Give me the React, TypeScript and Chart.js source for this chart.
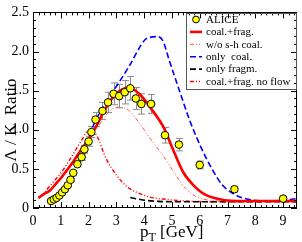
import React, { useEffect, useRef } from 'react';
import { Chart, registerables } from 'chart.js';
Chart.register(...registerables);

const FONT = "'Liberation Serif', 'Times New Roman', serif";

// ALICE data
const aliceX = [0.65, 0.75, 0.85, 0.95, 1.05, 1.15, 1.25, 1.35, 1.45, 1.6, 1.75, 1.85, 2.0, 2.1, 2.25, 2.5, 2.7, 2.9, 3.1, 3.3, 3.5, 3.7, 3.9, 4.25, 4.75, 5.25, 6.0, 7.25, 9.0];
const aliceY = [0.09, 0.11, 0.13, 0.16, 0.2, 0.24, 0.29, 0.36, 0.45, 0.56, 0.65, 0.75, 0.85, 0.97, 1.13, 1.24, 1.35, 1.46, 1.43, 1.48, 1.53, 1.4, 1.33, 1.33, 0.93, 0.81, 0.55, 0.24, 0.12];
const aliceErr = [0.01, 0.01, 0.01, 0.01, 0.01, 0.01, 0.015, 0.02, 0.02, 0.03, 0.04, 0.05, 0.06, 0.07, 0.09, 0.11, 0.13, 0.14, 0.15, 0.15, 0.15, 0.14, 0.13, 0.12, 0.1, 0.08, 0.05, 0.035, 0.03];

// coal.+frag.
const cfX = [0.2, 0.4, 0.6, 0.8, 1.0, 1.3, 1.5, 1.8, 2.0, 2.3, 2.5, 2.8, 3.1, 3.45, 3.85, 4.25, 4.7, 5.0, 5.4, 5.75, 6.2, 6.9, 7.5, 8.5, 9.5];
const cfY = [0.13, 0.18, 0.22, 0.3, 0.38, 0.52, 0.62, 0.78, 0.88, 1.06, 1.2, 1.38, 1.49, 1.54, 1.45, 1.27, 1.03, 0.78, 0.46, 0.3, 0.17, 0.1, 0.09, 0.09, 0.09];

// w/o s-h coal.
const woX = [0.2, 0.4, 0.6, 0.8, 1.0, 1.3, 1.5, 1.8, 2.0, 2.3, 2.5, 2.73, 3.08, 3.44, 3.8, 4.15, 4.45, 4.78, 5.14, 5.49, 5.85, 6.32, 7.0, 8.0, 9.5];
const woY = [0.13, 0.18, 0.22, 0.3, 0.38, 0.52, 0.62, 0.78, 0.88, 1.02, 1.12, 1.23, 1.29, 1.25, 1.1, 0.92, 0.78, 0.62, 0.42, 0.25, 0.15, 0.1, 0.09, 0.09, 0.09];

// only coal.
const ocX = [0.2, 0.4, 0.6, 0.8, 1.0, 1.3, 1.5, 1.8, 2.0, 2.25, 2.6, 2.85, 3.44, 4.03, 4.2, 4.45, 4.67, 4.9, 5.25, 5.66, 6.08, 6.44, 6.8, 7.27, 7.75, 8.34, 9.0, 9.5];
const ocY = [0.13, 0.18, 0.22, 0.3, 0.38, 0.52, 0.62, 0.79, 0.9, 1.12, 1.33, 1.47, 1.8, 2.15, 2.18, 2.19, 2.14, 1.89, 1.52, 1.1, 0.75, 0.5, 0.3, 0.17, 0.11, 0.09, 0.1, 0.12];

// only fragm.
const ofX = [3.5, 4.0, 4.5, 5.0, 6.0, 7.0, 8.0, 9.5];
const ofY = [0.135, 0.1, 0.085, 0.08, 0.08, 0.08, 0.08, 0.08];

// coal.+frag. no flow
const nfX = [0.2, 0.37, 0.6, 0.8, 1.07, 1.43, 1.79, 1.95, 2.1, 2.3, 2.62, 2.98, 3.39, 3.8, 4.2, 4.8, 5.5, 6.5, 8.0, 9.5];
const nfY = [0.13, 0.18, 0.28, 0.36, 0.48, 0.68, 0.89, 0.98, 0.99, 0.92, 0.64, 0.43, 0.27, 0.19, 0.14, 0.11, 0.09, 0.08, 0.08, 0.08];

const legendLabels = ['ALICE', 'coal.+frag.', 'w/o s-h coal.', 'only  coal.', 'only fragm.', 'coal.+frag. no flow'];

const pts = (xs: number[], ys: number[]) => xs.map((x, i) => ({ x, y: ys[i] }));

const STYLES = [
  null,
  { color: '#ff0000', width: 2.6, dash: [] as number[] },
  { color: '#ff5050', width: 1, dash: [4, 2, 1, 2, 1, 2] },
  { color: '#0000ff', width: 1.6, dash: [6, 3] },
  { color: '#000000', width: 1.6, dash: [6, 3] },
  { color: '#ff0000', width: 1.4, dash: [4, 2, 1, 2, 1, 2] },
];

export default function App() {
  const ref = useRef<HTMLCanvasElement>(null);
  useEffect(() => {
    document.body.style.margin = '0';
    const canvas = ref.current!;

    const errPlugin = {
      id: 'errbars',
      beforeDatasetsDraw(chart: any) {
        const { ctx, scales } = chart;
        const x = scales.x, y = scales.y;
        ctx.save();
        ctx.strokeStyle = '#8c8c8c';
        ctx.lineWidth = 1;
        aliceX.forEach((xv, i) => {
          const e = aliceErr[i];
          const px = Math.round(x.getPixelForValue(xv)) + 0.5;
          const y1 = y.getPixelForValue(aliceY[i] + e);
          const y2 = y.getPixelForValue(aliceY[i] - e);
          ctx.beginPath();
          ctx.moveTo(px, y1); ctx.lineTo(px, y2);
          ctx.moveTo(px - 3.5, y1); ctx.lineTo(px + 3.5, y1);
          ctx.moveTo(px - 3.5, y2); ctx.lineTo(px + 3.5, y2);
          ctx.stroke();
        });
        ctx.restore();
      },
    };

    const decoPlugin = {
      id: 'deco',
      afterDraw(chart: any) {
        const { ctx, chartArea: a, scales } = chart;
        const x = scales.x, y = scales.y;
        ctx.save();
        ctx.strokeStyle = '#000';
        ctx.lineWidth = 1;
        // frame
        ctx.strokeRect(Math.round(a.left) + 0.5, Math.round(a.top) + 0.5, Math.round(a.right - a.left) - 1, Math.round(a.bottom - a.top) - 1);
        // x ticks
        ctx.beginPath();
        for (let k = 0; k <= 47; k++) {
          const v = k * 0.2;
          if (v > 9.5) break;
          const px = Math.round(x.getPixelForValue(v)) + 0.5;
          const len = k % 5 === 0 ? 6 : 3;
          ctx.moveTo(px, a.bottom); ctx.lineTo(px, a.bottom - len);
          ctx.moveTo(px, a.top); ctx.lineTo(px, a.top + len);
        }
        for (let k = 0; k <= 25; k++) {
          const v = k * 0.1;
          const py = Math.round(y.getPixelForValue(v)) + 0.5;
          const len = k % 5 === 0 ? 6 : 3;
          ctx.moveTo(a.left, py); ctx.lineTo(a.left + len, py);
          ctx.moveTo(a.right, py); ctx.lineTo(a.right - len, py);
        }
        ctx.stroke();

        // axis titles
        ctx.fillStyle = '#000';
        ctx.textBaseline = 'alphabetic';
        ctx.font = `17px ${FONT}`;
        let tx = 140;
        const ty = 237;
        ctx.textAlign = 'left';
        ctx.fillText('p', tx, ty);
        tx += ctx.measureText('p').width;
        ctx.font = `12px ${FONT}`;
        ctx.fillText('T', tx, ty + 4);
        tx += ctx.measureText('T').width;
        ctx.font = `17px ${FONT}`;
        ctx.fillText(' [GeV]', tx, ty);

        ctx.save();
        ctx.translate(16, 120);
        ctx.rotate(-Math.PI / 2);
        ctx.textAlign = 'center';
        ctx.fillText('\u039b / K  Ratio', 0, 0);
        ctx.restore();

        // legend
        const lx = 186.5, ly = 13.5, lw = 110, lh = 76;
        ctx.strokeStyle = '#555';
        ctx.lineWidth = 1;
        ctx.strokeRect(lx, ly, lw, lh);
        ctx.font = `11px ${FONT}`;
        ctx.textBaseline = 'middle';
        ctx.textAlign = 'left';
        legendLabels.forEach((lab, i) => {
          const cy = 19.5 + i * 12.4;
          if (i === 0) {
            ctx.beginPath();
            ctx.arc(196, cy, 3.4, 0, Math.PI * 2);
            ctx.fillStyle = '#ffff00';
            ctx.fill();
            ctx.strokeStyle = '#000';
            ctx.stroke();
          } else {
            const s = STYLES[i]!;
            ctx.save();
            ctx.strokeStyle = s.color;
            ctx.lineWidth = s.width;
            ctx.setLineDash(s.dash);
            ctx.beginPath();
            ctx.moveTo(190, cy); ctx.lineTo(202, cy);
            ctx.stroke();
            ctx.restore();
          }
          ctx.fillStyle = '#000';
          ctx.fillText(lab, 206, cy + 0.5);
        });
        ctx.restore();
      },
    };

    const lineDs = (label: string, xs: number[], ys: number[], i: number) => {
      const s = STYLES[i]!;
      return {
        label,
        data: pts(xs, ys),
        showLine: true,
        borderColor: s.color,
        borderWidth: s.width,
        borderDash: s.dash,
        pointRadius: 0,
        fill: false,
        cubicInterpolationMode: 'monotone' as const,
        order: i,
      };
    };

    const chart = new Chart(canvas, {
      type: 'scatter',
      data: {
        datasets: [
          {
            label: 'ALICE',
            data: pts(aliceX, aliceY),
            pointRadius: 3.8,
            pointBackgroundColor: '#ffff00',
            pointBorderColor: '#000',
            pointBorderWidth: 1,
            showLine: false,
            order: 0,
          } as any,
          lineDs('coal.+frag.', cfX, cfY, 1),
          lineDs('w/o s-h coal.', woX, woY, 2),
          lineDs('only  coal.', ocX, ocY, 3),
          lineDs('only fragm.', ofX, ofY, 4),
          lineDs('coal.+frag. no flow', nfX, nfY, 5),
        ],
      },
      options: {
        animation: false,
        responsive: false,
        devicePixelRatio: 1,
        layout: { padding: { top: 8, right: 3, left: 0, bottom: 0 } },
        plugins: { legend: { display: false }, tooltip: { enabled: false } },
        scales: {
          x: {
            type: 'linear',
            min: 0,
            max: 9.5,
            grid: { display: false, drawTicks: false },
            border: { display: false },
            ticks: { stepSize: 1, includeBounds: false, padding: 5, color: '#000', font: { family: FONT, size: 14 }, maxRotation: 0 },
            afterFit: (s: any) => { s.height = 34; },
          },
          y: {
            type: 'linear',
            min: 0,
            max: 2.5,
            grid: { display: false, drawTicks: false },
            border: { display: false },
            ticks: {
              stepSize: 0.5,
              padding: 4,
              color: '#000',
              font: { family: FONT, size: 14 },
              callback: (v: any) => (v === 0 ? '0' : Number(v).toFixed(1)),
            },
            afterFit: (s: any) => { s.width = 33; },
          },
        },
      },
      plugins: [errPlugin, decoPlugin],
    } as any);
    return () => chart.destroy();
  }, []);
  return <canvas ref={ref} width={302} height={242} style={{ display: 'block' }} />;
}
